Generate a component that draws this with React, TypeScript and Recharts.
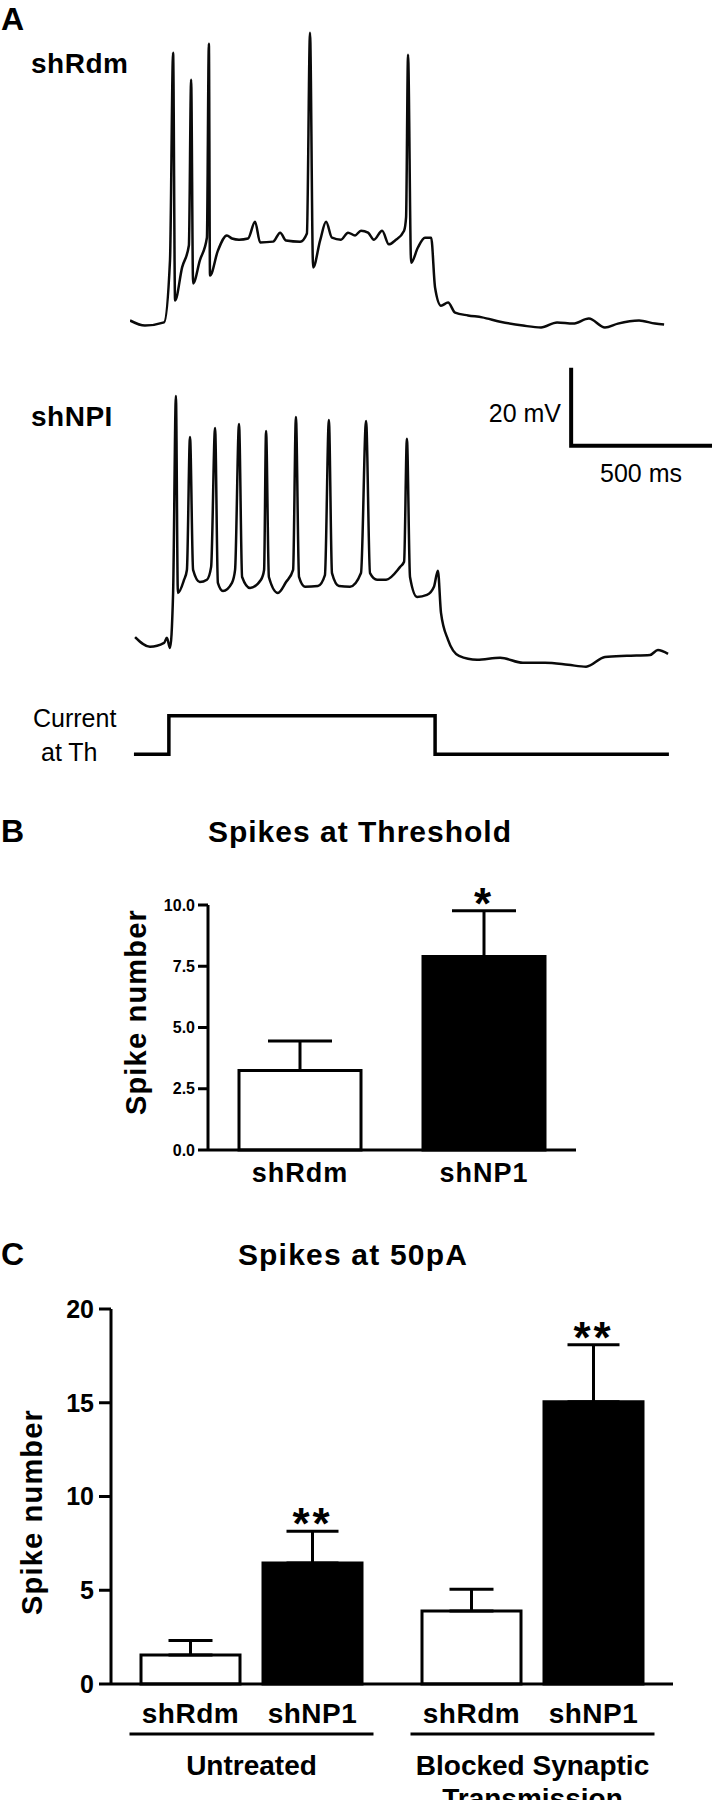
import { LineChart, Line, XAxis, YAxis, BarChart, Bar, ErrorBar, Cell, LabelList } from 'recharts';

const FONT = '"Liberation Sans", Arial, sans-serif';

// A: whole-cell recordings, time in ms, Vm in mV
const shRdmTime = [0, 53, 121, 142, 153, 160, 185, 209, 217, 224, 248, 273, 280, 284, 312, 344, 362, 387, 419, 444, 462, 508, 533, 554, 604, 628, 639, 650, 675, 696, 717, 749, 774, 799, 820, 845, 866, 895, 919, 941, 973, 980, 987, 998, 1022, 1047, 1069, 1083, 1104, 1129, 1154, 1200, 1250, 1314, 1395, 1459, 1516, 1573, 1629, 1686, 1732, 1807, 1864, 1896];
const shRdmVm = [-70, -71.3, -70.5, -54.6, -1.4, -64.9, -56.4, -50.8, -8.3, -60.5, -54.6, -48.8, 0.9, -58.5, -52.1, -48.2, -49.0, -49.3, -49.0, -44.7, -50.0, -49.8, -47.5, -49.5, -49.8, -47.7, 3.7, -56.4, -49.5, -44.7, -48.8, -49.3, -47.5, -48.2, -47.0, -47.5, -49.3, -47.0, -50.5, -49.5, -47.0, -43.6, -1.9, -55.2, -51.3, -48.8, -48.8, -61.6, -66.2, -65.4, -68.0, -68.7, -69.2, -70.3, -71.3, -71.8, -70.5, -70.8, -69.5, -71.8, -70.8, -70, -70.8, -71.0];

const shNPITime = [18, 71, 121, 131, 142, 153, 163, 170, 192, 202, 213, 224, 248, 273, 288, 302, 312, 330, 362, 373, 387, 398, 426, 465, 476, 483, 493, 525, 554, 579, 589, 600, 621, 667, 692, 706, 717, 742, 781, 820, 838, 852, 877, 909, 959, 973, 983, 994, 1019, 1054, 1079, 1093, 1104, 1129, 1168, 1232, 1314, 1395, 1473, 1555, 1619, 1686, 1764, 1846, 1874, 1910];
const shNPIVm = [-68.0, -70.5, -69.5, -68.2, -70.8, -56.7, -6.2, -56.7, -53.3, -50.8, -16.7, -50.8, -53.9, -53.3, -50.0, -14.4, -54.1, -56.2, -54.1, -50.8, -13.4, -52.6, -55.4, -53.3, -50.8, -15.2, -52.6, -56.7, -53.9, -50.8, -11.6, -52.6, -55.1, -54.9, -52.1, -12.4, -51.6, -54.9, -55.1, -51.6, -12.6, -51.6, -53.3, -53.3, -50.0, -48.7, -17.2, -52.6, -57.7, -57.2, -55.1, -51.0, -61.8, -68.7, -72.8, -73.8, -73.3, -74.6, -74.6, -75.1, -75.6, -73.1, -72.8, -72.6, -71.3, -72.3];

const stepTime = [14, 138, 138, 1083, 1083, 1913];
const stepLevel = [0, 0, 1, 1, 0, 0];

// scale bar: 20 mV / 500 ms
const scaleBarTime = [1566, 1566, 2066];
const scaleBarVm = [1, -19, -19];

// B: spikes at threshold
const bNames = ['shRdm', 'shNP1'];
const bMeans = [3.25, 7.9];
const bSem = [1.2, 1.87];
const bSig = ['', '*'];
const bFills = ['#fff', '#000'];

// C: spikes at 50pA
const cGroupLines = [['Untreated'], ['Blocked Synaptic', 'Transmission']];
const cBarNames = ['shRdm', 'shNP1'];
const cRdmMeans = [1.55, 3.9];
const cRdmSem = [0.77, 1.15];
const cNp1Means = [6.45, 15.05];
const cNp1Sem = [1.7, 3.05];
const cSig = ['**', '**'];

const toPoints = (t: number[], v: number[]) => t.map((x, i) => ({ t: x, v: v[i] }));

const shRdmData = toPoints(shRdmTime, shRdmVm);
const shNPIData = toPoints(shNPITime, shNPIVm);
const stepData = toPoints(stepTime, stepLevel);
const scaleBarData = toPoints(scaleBarTime, scaleBarVm);

const bData = bNames.map((name, i) => ({ name, mean: bMeans[i], err: [0, bSem[i]] }));
const cData = cGroupLines.map((lines, i) => ({
  name: lines.join(' '),
  rdm: cRdmMeans[i],
  rdmErr: [0, cRdmSem[i]],
  np1: cNp1Means[i],
  np1Err: [0, cNp1Sem[i]],
}));

const T_DOMAIN: [number, number] = [0, 2066];

const starLabel = (sig: string[], sem: number[]) => (props: any) => {
  const vb = props.viewBox ?? props;
  const i = props.index;
  const value = Number(props.value);
  if (!sig[i] || !value) return null;
  const h = Math.abs(vb.height);
  const top = Math.min(vb.y, vb.y + vb.height);
  const capY = top - sem[i] * (h / value);
  return (
    <text x={vb.x + vb.width / 2} y={capY + 8} textAnchor="middle" fontSize={44} fontWeight={700}
      fontFamily={FONT} fill="#000" letterSpacing={3}>{sig[i]}</text>
  );
};

const GroupTick = (props: any) => {
  const { x, y, index } = props;
  const lines = cGroupLines[index] ?? [];
  return (
    <g fontFamily={FONT} fontWeight={700} fill="#000">
      {cBarNames.map((n, j) => (
        <text key={n} x={x + (j === 0 ? -61 : 61)} y={y + 29} textAnchor="middle" dominantBaseline="central"
          fontSize={28} letterSpacing={0.5}>{n}</text>
      ))}
      <line x1={x - 122} x2={x + 122} y1={y + 50} y2={y + 50} stroke="#000" strokeWidth={3} />
      {lines.map((l, k) => (
        <text key={l} x={x} y={y + 81 + k * 33} textAnchor="middle" dominantBaseline="central" fontSize={28}>{l}</text>
      ))}
    </g>
  );
};

const abs = (top: number): React.CSSProperties => ({ position: 'absolute', left: 0, top });
const axisStyle = { stroke: '#000', strokeWidth: 3 };

export default function App() {
  return (
    <div style={{ position: 'absolute', left: 0, top: 0, width: 712, height: 1800, overflow: 'hidden', background: '#fff' }}>
      {/* A: traces */}
      <div style={abs(0)}>
        <LineChart width={712} height={345} data={shRdmData} margin={{ top: 16, right: 0, bottom: 5, left: 130 }}>
          <XAxis type="number" dataKey="t" domain={T_DOMAIN} hide allowDataOverflow />
          <YAxis type="number" domain={[-75, 8]} hide allowDataOverflow />
          <Line type="monotoneX" dataKey="v" stroke="#0a0a0a" strokeWidth={2.5} dot={false} isAnimationActive={false} />
        </LineChart>
      </div>
      <div style={abs(350)}>
        <LineChart width={712} height={340} margin={{ top: 10, right: 0, bottom: 10, left: 130 }}>
          <XAxis type="number" dataKey="t" domain={T_DOMAIN} hide allowDataOverflow />
          <YAxis type="number" domain={[-79, 3]} hide allowDataOverflow />
          <Line data={shNPIData} type="monotoneX" dataKey="v" stroke="#0a0a0a" strokeWidth={2.5} dot={false} isAnimationActive={false} />
          <Line data={scaleBarData} type="linear" dataKey="v" stroke="#000" strokeWidth={4} strokeLinejoin="miter" dot={false} isAnimationActive={false} />
        </LineChart>
      </div>
      <div style={abs(700)}>
        <LineChart width={712} height={70} data={stepData} margin={{ top: 6, right: 0, bottom: 6, left: 130 }}>
          <XAxis type="number" dataKey="t" domain={T_DOMAIN} hide allowDataOverflow />
          <YAxis type="number" domain={[-0.25, 1.25]} hide allowDataOverflow />
          <Line type="linear" dataKey="v" stroke="#000" strokeWidth={3.5} strokeLinejoin="miter" dot={false} isAnimationActive={false} />
        </LineChart>
      </div>

      {/* B: spikes at threshold */}
      <div style={abs(880)}>
        <BarChart width={712} height={310} data={bData} margin={{ top: 25, right: 136, bottom: 0, left: 148 }} barSize={122}>
          <XAxis dataKey="name" height={40} axisLine={axisStyle} tickLine={false} tickSize={0} tickMargin={13}
            tick={{ fontSize: 27, fontWeight: 700, fill: '#000', fontFamily: FONT, letterSpacing: 1 }} />
          <YAxis width={60} domain={[0, 10]} ticks={[0, 2.5, 5, 7.5, 10]} tickFormatter={(v: number) => v.toFixed(1)}
            axisLine={axisStyle} tickLine={axisStyle} tickSize={10} tickMargin={3}
            tick={{ fontSize: 16, fontWeight: 700, fill: '#000', fontFamily: FONT }} />
          <Bar dataKey="mean" stroke="#000" strokeWidth={3} isAnimationActive={false}>
            {bData.map((d, i) => <Cell key={d.name} fill={bFills[i]} />)}
            <ErrorBar dataKey="err" direction="y" width={32} stroke="#000" strokeWidth={3} isAnimationActive={false} />
            <LabelList dataKey="mean" content={starLabel(bSig, bSem)} />
          </Bar>
        </BarChart>
      </div>

      {/* C: spikes at 50pA */}
      <div style={abs(1280)}>
        <BarChart width={712} height={520} data={cData} margin={{ top: 29, right: 39, bottom: 0, left: 51 }} barSize={99} barGap={23}>
          <XAxis dataKey="name" height={116} axisLine={axisStyle} tickLine={false} tickSize={0} tickMargin={0}
            interval={0} tick={<GroupTick />} />
          <YAxis width={60} domain={[0, 20]} ticks={[0, 5, 10, 15, 20]}
            axisLine={axisStyle} tickLine={axisStyle} tickSize={12} tickMargin={5}
            tick={{ fontSize: 25, fontWeight: 700, fill: '#000', fontFamily: FONT }} />
          <Bar dataKey="rdm" fill="#fff" stroke="#000" strokeWidth={3} isAnimationActive={false}>
            <ErrorBar dataKey="rdmErr" direction="y" width={22} stroke="#000" strokeWidth={3} isAnimationActive={false} />
          </Bar>
          <Bar dataKey="np1" fill="#000" stroke="#000" strokeWidth={3} isAnimationActive={false}>
            <ErrorBar dataKey="np1Err" direction="y" width={26} stroke="#000" strokeWidth={3} isAnimationActive={false} />
            <LabelList dataKey="np1" content={starLabel(cSig, cNp1Sem)} />
          </Bar>
        </BarChart>
      </div>

      {/* panel labels and annotations */}
      <svg width={712} height={1800} style={{ position: 'absolute', left: 0, top: 0, pointerEvents: 'none' }}
        fontFamily={FONT} fill="#000">
        <g fontWeight={700} dominantBaseline="central">
          <text x={1} y={19} fontSize={32}>A</text>
          <text x={31} y={63} fontSize={28} letterSpacing={0.5}>shRdm</text>
          <text x={31} y={416} fontSize={28} letterSpacing={0.5}>shNPI</text>
          <text x={1} y={831} fontSize={32}>B</text>
          <text x={360} y={831} fontSize={30} textAnchor="middle" letterSpacing={1}>Spikes at Threshold</text>
          <text x={136} y={1012} fontSize={29} textAnchor="middle" letterSpacing={1.2}
            transform="rotate(-90 136 1012)">Spike number</text>
          <text x={1} y={1254} fontSize={32}>C</text>
          <text x={353} y={1254} fontSize={30} textAnchor="middle" letterSpacing={1.2}>Spikes at 50pA</text>
          <text x={32} y={1512} fontSize={29} textAnchor="middle" letterSpacing={1.2}
            transform="rotate(-90 32 1512)">Spike number</text>
        </g>
        <g dominantBaseline="central" fontSize={25}>
          <text x={561} y={413} textAnchor="end">20 mV</text>
          <text x={600} y={473}>500 ms</text>
          <text x={33} y={718}>Current</text>
          <text x={41} y={752}>at Th</text>
        </g>
      </svg>
    </div>
  );
}
